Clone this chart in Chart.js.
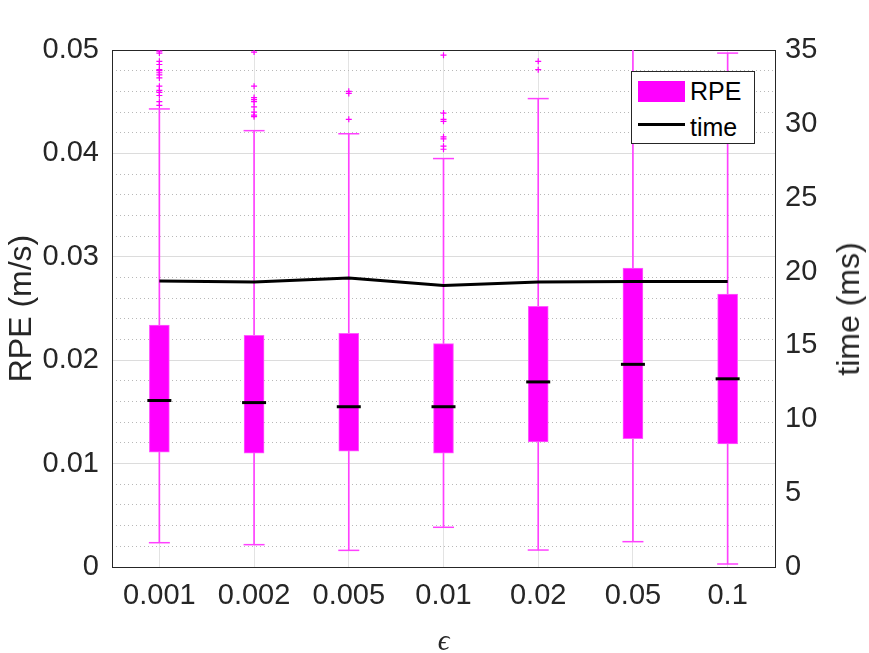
<!DOCTYPE html>
<html>
<head>
<meta charset="utf-8">
<script src="https://cdn.jsdelivr.net/npm/chart.js@4/dist/chart.umd.min.js"></script>
<style>
  html, body { margin: 0; padding: 0; background: #fff; }
  .wrap { position: relative; width: 869px; height: 653px; }
  canvas { display: block; }
  .legend {
    position: absolute; left: 631px; top: 71px; width: 122px; height: 71px;
    border: 1px solid #262626; background: #fff;
    font-family: "Liberation Sans", Arial, Helvetica, sans-serif; font-size: 25px; color: #000;
  }
  .legend .swatch { position: absolute; left: 6px; top: 9px; width: 47px; height: 21px; background: #ff00ff; }
  .legend .line { position: absolute; left: 6px; top: 51px; width: 47px; height: 3px; background: #000; }
  .legend .txt { position: absolute; left: 58px; line-height: 25px; white-space: nowrap; }
  /* right axis title reads bottom-to-top like the left one */
  .rtitle {
    position: absolute; left: 848px; top: 309px; transform: translate(-50%, -50%) rotate(-90deg);
    font-family: "Liberation Sans", Arial, Helvetica, sans-serif; font-size: 32px; color: #262626;
    white-space: nowrap; line-height: 32px;
  }
</style>
</head>
<body>
<div class="wrap">
  <canvas id="c" width="869" height="653"></canvas>
  <div class="legend">
    <div class="swatch"></div><span class="txt" style="top:7px">RPE</span>
    <div class="line"></div><span class="txt" style="top:43px">time</span>
  </div>
  <div class="rtitle">time (ms)</div>
</div>
<script>
const EPSILONS = ['0.001', '0.002', '0.005', '0.01', '0.02', '0.05', '0.1'];

// RPE box plot stats (m/s)
const Q1 = [0.0111, 0.0110, 0.0112, 0.0110, 0.0121, 0.0124, 0.0119];
const MEDIAN = [0.0161, 0.0159, 0.0155, 0.0155, 0.0179, 0.0196, 0.0182];
const Q3 = [0.0234, 0.0224, 0.0226, 0.0216, 0.0252, 0.0289, 0.0264];
const WHISKER_LO = [0.00235, 0.00216, 0.00161, 0.00384, 0.00164, 0.00245, 0.00029];
const WHISKER_HI = [0.0443, 0.0422, 0.0419, 0.0395, 0.0453, 0.0540, 0.0497];
const CAP_HI = [0.0443, 0.0422, 0.0419, 0.0395, 0.0453, null, 0.0497];
const OUTLIERS = [
  [0.0499, 0.0497, 0.0489, 0.0486, 0.0481, 0.0480, 0.0478, 0.0476, 0.0473, 0.0465, 0.0461, 0.0459, 0.0456, 0.0450, 0.04465],
  [0.0498, 0.0465, 0.0454, 0.0452, 0.0450, 0.0445, 0.0440, 0.0437, 0.04355],
  [0.0460, 0.0458, 0.0433],
  [0.0495, 0.0439, 0.0433, 0.0431, 0.0416, 0.0414, 0.0407, 0.0404],
  [0.0489, 0.0481],
  [],
  []
];

// computation time (ms)
const TIME_MS = [19.36, 19.29, 19.57, 19.06, 19.29, 19.33, 19.33];

const FONT = '"Liberation Sans", Arial, Helvetica, sans-serif';
const AXIS = '#262626';
const MAGENTA = '#ff00ff';

const outlierPoints = [];
OUTLIERS.forEach((vals, i) => vals.forEach((v) => outlierPoints.push({ x: EPSILONS[i], y: v })));

const fixWidth = (w) => (scale) => { scale.width = w; };
const fixHeight = (h) => (scale) => { scale.height = h; };

new Chart(document.getElementById('c'), {
  type: 'bar',
  data: {
    labels: EPSILONS,
    datasets: [
      {
        type: 'line', label: 'time', data: TIME_MS, yAxisID: 'y1',
        borderColor: '#000', borderWidth: 3, pointRadius: 0, tension: 0, order: 0,
      },
      {
        type: 'line', label: 'median', data: MEDIAN, showLine: false,
        pointStyle: 'line', pointRadius: 12, pointBorderWidth: 3, pointBorderColor: '#000', order: 1,
      },
      {
        label: 'RPE', data: Q1.map((q, i) => [q, Q3[i]]), grouped: false,
        barThickness: 20, backgroundColor: MAGENTA, borderColor: '#ff5cff', borderWidth: 1,
        borderSkipped: false, order: 2,
      },
      {
        type: 'line', label: 'capLo', data: WHISKER_LO, showLine: false,
        pointStyle: 'line', pointRadius: 10.5, pointBorderWidth: 1.5, pointBorderColor: '#ff40ff', order: 3,
      },
      {
        type: 'line', label: 'capHi', data: CAP_HI, showLine: false,
        pointStyle: 'line', pointRadius: 10.5, pointBorderWidth: 1.5, pointBorderColor: '#ff40ff', order: 3,
      },
      {
        type: 'line', label: 'outliers', data: outlierPoints, showLine: false,
        pointStyle: 'cross', pointRadius: 3, pointBorderWidth: 1.2, pointBorderColor: MAGENTA, order: 3,
      },
      {
        label: 'whisker', data: WHISKER_LO.map((lo, i) => [lo, WHISKER_HI[i]]), grouped: false,
        barThickness: 1, backgroundColor: '#ff40ff', borderWidth: 0, order: 4,
      },
    ],
  },
  options: {
    responsive: false,
    animation: false,
    devicePixelRatio: 1,
    layout: { padding: { top: 50, left: 0, right: 0, bottom: 0 } },
    plugins: { legend: { display: false }, tooltip: { enabled: false } },
    scales: {
      x: {
        position: 'bottom',
        offset: true,
        afterFit: fixHeight(86),
        grid: { offset: false, color: '#e3e3e3', drawTicks: false },
        border: { color: AXIS },
        ticks: { color: AXIS, font: { family: FONT, size: 29 }, padding: 12, maxRotation: 0 },
        title: {
          display: true, text: 'ϵ', color: AXIS,
          font: { family: '"Liberation Serif", "DejaVu Serif", serif', size: 29, style: 'italic', lineHeight: 1 },
          padding: { top: 0, bottom: -4 },
        },
      },
      xTop: {
        type: 'category', position: 'top', afterFit: fixHeight(0),
        grid: { display: false }, ticks: { display: false }, border: { color: AXIS },
      },
      yMinor: {
        type: 'linear', position: 'left', min: 0, max: 0.05, z: -1,
        afterFit: fixWidth(0),
        ticks: { display: false, stepSize: 0.002, maxTicksLimit: 100 },
        grid: { color: '#b8b8b8', drawTicks: false },
        border: { display: false, dash: [1, 3] },
      },
      y: {
        type: 'linear', position: 'left', min: 0, max: 0.05,
        afterFit: fixWidth(112),
        ticks: {
          stepSize: 0.01, color: AXIS, padding: 13,
          font: { family: FONT, size: 29 },
          callback: (v) => (v === 0 ? '0' : v.toFixed(2)),
        },
        grid: { color: '#dcdcdc', drawTicks: false },
        border: { color: AXIS },
        title: {
          display: true, text: 'RPE (m/s)', color: AXIS,
          font: { family: FONT, size: 32 }, padding: { top: 3, bottom: 0 },
        },
      },
      y1: {
        type: 'linear', position: 'right', min: 0, max: 35,
        afterFit: fixWidth(94),
        ticks: { stepSize: 5, color: AXIS, padding: 10, font: { family: FONT, size: 29 } },
        grid: { display: false, drawTicks: false },
        border: { color: AXIS },
      },
    },
  },
});
</script>
</body>
</html>
